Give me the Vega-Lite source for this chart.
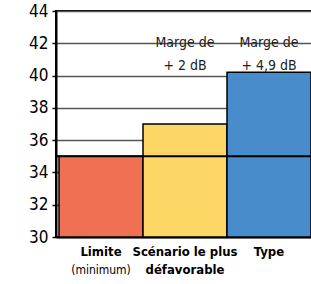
{
  "$schema": "https://vega.github.io/schema/vega-lite/v6.json",
  "autosize": {"type": "none"},
  "padding": {"left": 56, "top": 11, "right": 0, "bottom": 47},
  "width": 258,
  "height": 226,
  "background": "white",
  "config": {
    "font": "DejaVu Sans Condensed, Liberation Sans Narrow, sans-serif",
    "view": {"stroke": "black", "strokeWidth": 2}
  },
  "datasets": {
    "bars": [
      {"cat": "Limite", "value": 35.0},
      {"cat": "Scénario le plus défavorable", "value": 37.0},
      {"cat": "Type", "value": 40.2}
    ],
    "line": [
      {"value": 35.0}
    ],
    "notes": [
      {"cat": "Scénario le plus défavorable", "value": 42, "label": ["Marge de", "+ 2 dB"]},
      {"cat": "Type", "value": 42, "label": ["Marge de", "+ 4,9 dB"]}
    ],
    "sub": [
      {"cat": "Limite", "value": 30, "label": "(minimum)"}
    ]
  },
  "encoding": {
    "x": {
      "field": "cat", "type": "nominal", "sort": null,
      "scale": {"domain": ["Limite", "Scénario le plus défavorable", "Type"], "paddingInner": 0, "paddingOuter": 0.0357},
      "axis": {
        "title": null, "labelAngle": 0, "ticks": false,
        "domainColor": "black", "domainWidth": 2,
        "labelFont": "DejaVu Sans Condensed, Liberation Sans Narrow, sans-serif",
        "labelFontWeight": "bold", "labelFontSize": 13, "labelColor": "black",
        "labelPadding": 8, "labelLineHeight": 18, "labelOverlap": false,
        "labelExpr": "datum.value == 'Scénario le plus défavorable' ? ['Scénario le plus', 'défavorable'] : datum.value"
      }
    },
    "y": {
      "field": "value", "type": "quantitative",
      "scale": {"domain": [30, 44], "zero": false, "nice": false},
      "axis": {
        "title": null, "values": [30, 32, 34, 36, 38, 40, 42, 44],
        "grid": true, "gridColor": "#555555", "gridWidth": 1.5, "gridOpacity": 1,
        "domainColor": "black", "domainWidth": 2, "labelOverlap": false,
        "tickColor": "black", "tickSize": 4, "tickWidth": 1.5,
        "labelFont": "DejaVu Sans Condensed, Liberation Sans Narrow, sans-serif",
        "labelFontSize": 17, "labelColor": "black", "labelPadding": 4
      }
    }
  },
  "layer": [
    {
      "data": {"name": "bars"},
      "mark": {"type": "bar", "stroke": "black", "strokeWidth": 1.5},
      "encoding": {
        "y2": {"datum": 30},
        "color": {
          "field": "cat", "type": "nominal", "legend": null,
          "scale": {"domain": ["Limite", "Scénario le plus défavorable", "Type"], "range": ["#F07054", "#FDD766", "#488CCC"]}
        }
      }
    },
    {
      "data": {"name": "line"},
      "mark": {"type": "rule", "color": "black", "strokeWidth": 2},
      "encoding": {"x": null}
    },
    {
      "data": {"name": "notes"},
      "mark": {"type": "text", "fontSize": 14, "lineHeight": 23, "baseline": "middle", "color": "#222222"},
      "encoding": {
        "text": {"field": "label"}
      }
    },
    {
      "data": {"name": "sub"},
      "mark": {"type": "text", "fontSize": 12, "baseline": "alphabetic", "dy": 37, "color": "black", "clip": false},
      "encoding": {
        "text": {"field": "label"}
      }
    }
  ]
}
